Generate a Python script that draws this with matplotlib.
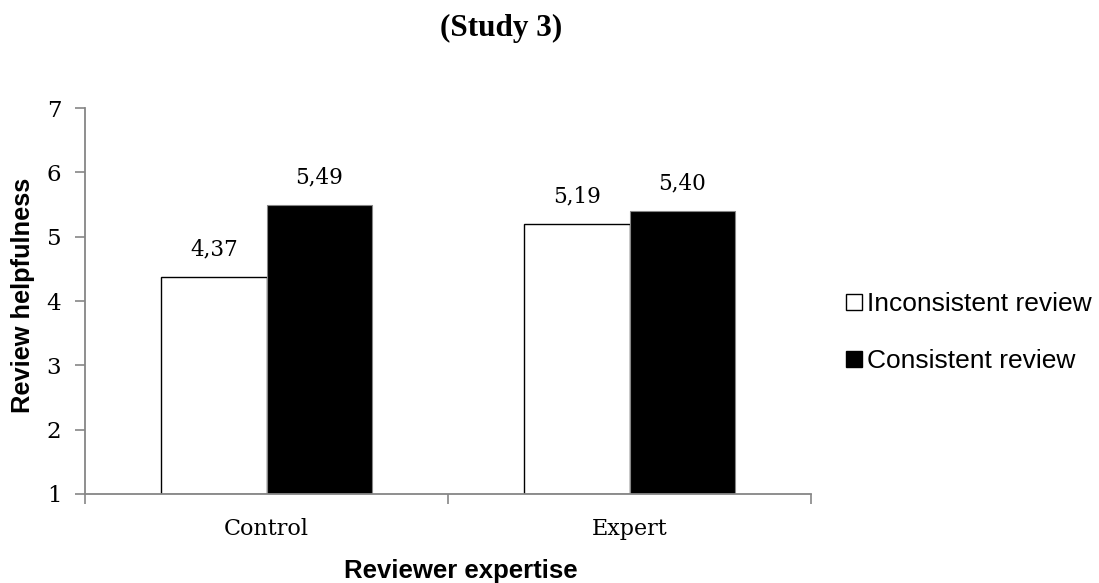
import matplotlib
matplotlib.use("Agg")
import matplotlib.pyplot as plt
from matplotlib.lines import Line2D

# data
groups = ["Control", "Expert"]
inconsistent = [4.37, 5.19]
consistent = [5.49, 5.40]
series_names = ["Inconsistent review", "Consistent review"]
yticks = [1, 2, 3, 4, 5, 6, 7]

axis_grey = "#868686"
width = 0.29

fig = plt.figure(figsize=(10.99, 5.83), dpi=100)
ax = fig.add_axes([0.0773, 0.1527, 0.661, 0.662])

xs = list(range(len(groups)))
ax.bar([x - width / 2 for x in xs], [v - 1 for v in inconsistent], width,
       bottom=1, color="white", edgecolor="black", linewidth=1.0)
ax.bar([x + width / 2 for x in xs], [v - 1 for v in consistent], width,
       bottom=1, color="black", edgecolor=axis_grey, linewidth=0.8)

# value labels, with the comma as decimal sign
for x, v in zip(xs, inconsistent):
    ax.text(x - width / 2, v + 0.26, f"{v:.2f}".replace(".", ","),
            ha="center", va="bottom", family="DejaVu Serif", fontsize=15.5)
for x, v in zip(xs, consistent):
    ax.text(x + width / 2, v + 0.26, f"{v:.2f}".replace(".", ","),
            ha="center", va="bottom", family="DejaVu Serif", fontsize=15.5)

ax.set_ylim(1, 7)
ax.set_xlim(-0.5, 1.5)
ax.set_yticks(yticks)
ax.set_yticklabels([str(t) for t in yticks], family="DejaVu Serif", fontsize=16.5)

# category labels without ticks, boundary ticks on the x axis
ax.set_xticks([-0.5, 0.5, 1.5])
ax.set_xticklabels(["", "", ""])
ax.set_xticks(xs, minor=True)
ax.set_xticklabels(groups, minor=True, family="DejaVu Serif", fontsize=16)
ax.tick_params(axis="x", which="minor", length=0, pad=17)
ax.tick_params(axis="x", which="major", length=7, color=axis_grey, width=1.2)
ax.tick_params(axis="y", length=7, color=axis_grey, width=1.2, pad=10)

for side in ["top", "right"]:
    ax.spines[side].set_visible(False)
for side in ["left", "bottom"]:
    ax.spines[side].set_color(axis_grey)
    ax.spines[side].set_linewidth(1.3)

ax.set_ylabel("Review helpfulness", family="Liberation Sans",
              fontweight="bold", fontsize=18.3)
ax.yaxis.set_label_coords(-0.085, 0.515)
ax.set_xlabel("Reviewer expertise", family="Liberation Sans",
              fontweight="bold", fontsize=18.5)
ax.xaxis.set_label_coords(0.518, -0.2)
ax.xaxis.label.set_va("center")
ax.yaxis.label.set_va("center")

fig.text(0.456, 0.952, "(Study 3)", ha="center", va="center",
         family="Liberation Serif", fontweight="bold", fontsize=22.5)

handles = [
    Line2D([], [], marker="s", linestyle="none", markersize=11,
           markerfacecolor="white", markeredgecolor="black", markeredgewidth=1.0),
    Line2D([], [], marker="s", linestyle="none", markersize=11,
           markerfacecolor="black", markeredgecolor="black"),
]
fig.legend(handles, series_names, loc="center left",
           bbox_to_anchor=(0.748, 0.43), frameon=False,
           prop={"family": "Liberation Sans", "size": 19},
           handlelength=0.6, handletextpad=0.2, labelspacing=1.25)

fig.savefig("out.png", dpi=100)
